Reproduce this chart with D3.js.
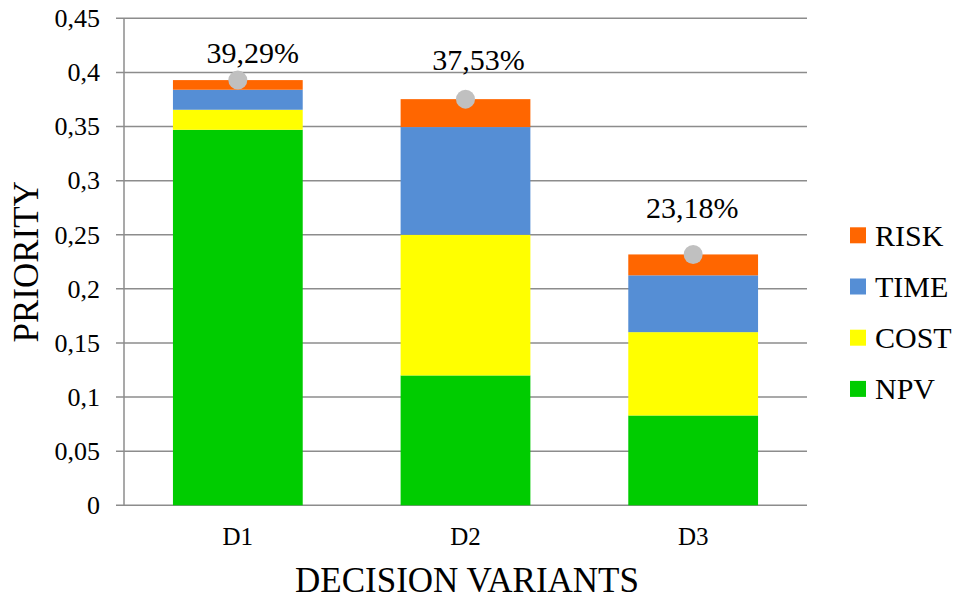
<!DOCTYPE html>
<html>
<head>
<meta charset="utf-8">
<script src="https://cdn.jsdelivr.net/npm/d3@7/dist/d3.min.js"></script>
<style>
  html, body { margin: 0; padding: 0; background: #fff; }
</style>
</head>
<body>
<svg id="chart" width="957" height="600"></svg>
<script>
// ---- data ----
const categories = ["D1", "D2", "D3"];
const seriesNames = ["NPV", "COST", "TIME", "RISK"];
const npv  = [0.347, 0.120, 0.083];
const cost = [0.0185, 0.130, 0.077];
const time = [0.0185, 0.0995, 0.0525];
const risk = [0.0089, 0.0258, 0.0193];
const totals = [0.3929, 0.3753, 0.2318];
const totalLabels = ["39,29%", "37,53%", "23,18%"];
const yTicks = [0, 0.05, 0.1, 0.15, 0.2, 0.25, 0.3, 0.35, 0.4, 0.45];
const legendOrder = ["RISK", "TIME", "COST", "NPV"];
// label placement nudges (px) as in the original
const labelDx = [15, 13, -1];
const labelDy = [-17, -29, -36];

const colors = { NPV: "#00CC00", COST: "#FFFF00", TIME: "#558ED5", RISK: "#FF6600" };
const FONT = "serif";

// ---- layout ----
const svg = d3.select("#chart").style("font-family", FONT);
const plotLeft = 124, plotRight = 807, plotTop = 18.3, plotBottom = 505.3;

const x = d3.scaleBand().domain(categories).range([plotLeft, plotRight]).padding(0);
const y = d3.scaleLinear().domain([0, 0.45]).range([plotBottom, plotTop]);
const barW = x.bandwidth() * 0.57;

const fmt = v => String(+v.toFixed(2)).replace(".", ",");

// gridlines
svg.append("g").selectAll("line").data(yTicks).join("line")
  .attr("x1", plotLeft - 8).attr("x2", plotRight)
  .attr("y1", d => y(d)).attr("y2", d => y(d))
  .attr("stroke", "#8c8c8c").attr("stroke-width", 1.5);

// vertical axis line
svg.append("line")
  .attr("x1", plotLeft).attr("x2", plotLeft)
  .attr("y1", y(0.45)).attr("y2", y(0))
  .attr("stroke", "#8c8c8c").attr("stroke-width", 1.5);

// y tick labels
svg.append("g").selectAll("text").data(yTicks).join("text")
  .attr("x", 100).attr("y", d => y(d)).attr("dy", "0.34em")
  .attr("text-anchor", "end")
  .attr("font-size", 26).attr("fill", "#000")
  .text(d => fmt(d));

// stacked bars
const rows = categories.map((c, i) => ({ cat: c, NPV: npv[i], COST: cost[i], TIME: time[i], RISK: risk[i] }));
const stacked = d3.stack().keys(seriesNames)(rows);

svg.append("g").selectAll("g").data(stacked).join("g")
  .attr("fill", d => colors[d.key])
  .selectAll("rect").data(d => d).join("rect")
  .attr("x", d => x(d.data.cat) + (x.bandwidth() - barW) / 2)
  .attr("width", barW)
  .attr("y", d => y(d[1]))
  .attr("height", d => y(d[0]) - y(d[1]));

// x tick labels
svg.append("g").selectAll("text").data(categories).join("text")
  .attr("x", d => x(d) + x.bandwidth() / 2).attr("y", 545)
  .attr("text-anchor", "middle")
  .attr("font-size", 25).attr("fill", "#000")
  .text(d => d);

// total markers
svg.append("g").selectAll("circle").data(categories).join("circle")
  .attr("cx", d => x(d) + x.bandwidth() / 2)
  .attr("cy", (d, i) => y(totals[i]))
  .attr("r", 9.5)
  .attr("fill", "#C0C0C0");

// total labels
svg.append("g").selectAll("text").data(categories).join("text")
  .attr("x", (d, i) => x(d) + x.bandwidth() / 2 + labelDx[i])
  .attr("y", (d, i) => y(totals[i]) + labelDy[i])
  .attr("text-anchor", "middle")
  .attr("font-size", 30).attr("fill", "#000")
  .text((d, i) => totalLabels[i]);

// axis titles
svg.append("text")
  .attr("x", 467).attr("y", 592)
  .attr("text-anchor", "middle")
  .attr("font-size", 35).attr("fill", "#000")
  .text("DECISION VARIANTS");

svg.append("text")
  .attr("transform", `translate(38, ${(plotTop + plotBottom) / 2}) rotate(-90)`)
  .attr("text-anchor", "middle")
  .attr("font-size", 35).attr("fill", "#000")
  .text("PRIORITY");

// legend
const lg = svg.append("g").selectAll("g").data(legendOrder).join("g")
  .attr("transform", (d, i) => `translate(850, ${235.3 + i * 51.2})`);
lg.append("rect").attr("x", 0).attr("y", -8).attr("width", 16).attr("height", 16)
  .attr("fill", d => colors[d]);
lg.append("text").attr("x", 25).attr("y", 0).attr("dy", "0.34em")
  .attr("font-size", 30).attr("fill", "#000")
  .text(d => d);
</script>
</body>
</html>
